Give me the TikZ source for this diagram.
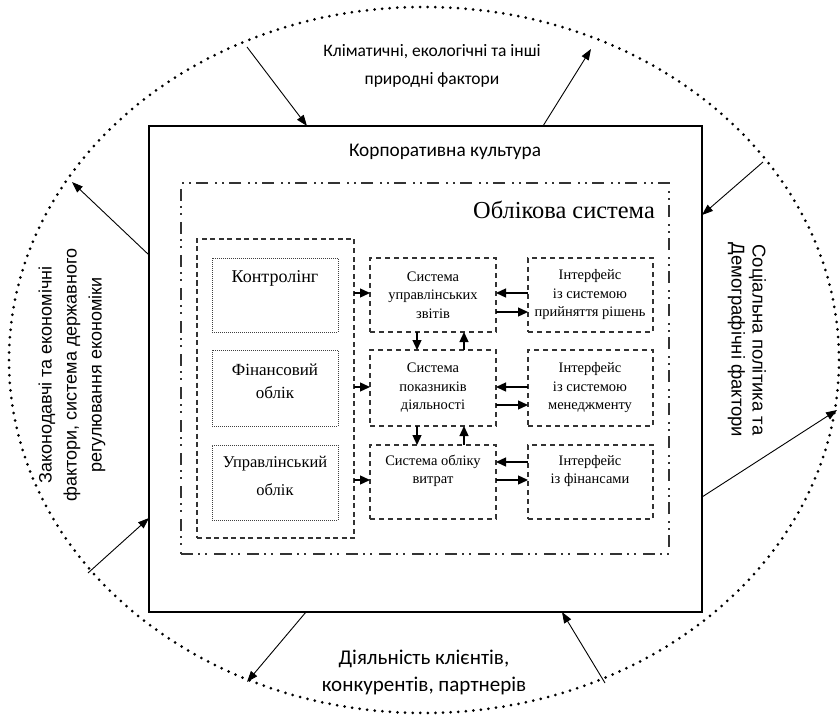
\documentclass[tikz,border=0pt]{standalone}
\usepackage{fontspec}
\setmainfont{Liberation Serif}
\newfontfamily\calibfont{Carlito}
\newfontfamily\arialfont{Liberation Sans}
\usetikzlibrary{arrows.meta,fit}
\begin{document}
\begin{tikzpicture}[x=1pt,y=-1pt,
  frame/.style={fit={#1},inner sep=0pt,outer sep=0pt,draw},
  corpbox/.style={line width=2.4pt},
  dashdotbox/.style={line width=1.5pt,black!80,dash pattern=on 12pt off 5pt on 2pt off 5pt on 2pt off 7pt},
  groupbox/.style={line width=1.1pt,black!80,dash pattern=on 5pt off 3.5pt},
  sysbox/.style={line width=1.1pt,black!80,dash pattern=on 5pt off 4pt},
  dotbox/.style={line width=0.9pt,black!75,dash pattern=on 1pt off 1pt},
  env/.style={line width=3pt,line cap=round,dash pattern=on 0pt off 7.6pt},
  bigarrow/.style={line width=0.9pt,-{Triangle[length=11pt,width=8pt]}},
  smallarrow/.style={line width=1.3pt,-{Triangle[length=10pt,width=9pt]}},
  txt/.style={inner sep=0pt,align=center},
  boxtxt/.style={txt,font=\fontsize{14.5}{18.5}\selectfont},
  midtxt/.style={txt,font=\fontsize{17}{23}\selectfont},
]
\useasboundingbox (0,0) rectangle (840,719);

% dotted environment boundary
\draw[env] (424,360) ellipse [x radius=415, y radius=353];

% corporate culture frame
\node[frame={(149,126) (702,612)},corpbox] (corp) {};
\node[txt,font=\calibfont\fontsize{19.3}{22}\selectfont] (corplbl) at (445,152) {Корпоративна культура};

% accounting system frame
\node[frame={(181,183) (669,554)},dashdotbox] (acc) {};
\node[txt,anchor=east,font=\fontsize{24.4}{28}\selectfont] (acclbl) at (655,210) {Облікова система};

% left group of accounting types
\node[frame={(197,239) (354,538)},groupbox] (grp) {};
\node[frame={(212,258) (338,332)},dotbox] (ctrl) {};
\node[frame={(212,350) (338,426)},dotbox] (fin) {};
\node[frame={(212,445) (338,520)},dotbox] (mgmt) {};
\node[txt,font=\fontsize{18}{22}\selectfont] (ctrltxt) at (275,278) {Контролінг};
\node[midtxt] (fintxt) at (275,381) {Фінансовий\\облік};
\node[txt,font=\fontsize{16.5}{28}\selectfont] (mgmttxt) at (275,476) {Управлінський\\облік};

% subsystems
\node[frame={(370,258) (496,332)},sysbox] (m1) {};
\node[frame={(370,350) (496,426)},sysbox] (m2) {};
\node[frame={(370,445) (496,519)},sysbox] (m3) {};
\node[boxtxt] (m1txt) at (433,295) {Система\\управлінських\\звітів};
\node[boxtxt] (m2txt) at (433,388) {Система\\показників\\діяльності};
\node[boxtxt] (m3txt) at (433,471) {Система обліку\\витрат};

% interfaces
\node[frame={(528,258) (653,332)},sysbox] (r1) {};
\node[frame={(528,350) (653,426)},sysbox] (r2) {};
\node[frame={(528,445) (653,519)},sysbox] (r3) {};
\node[boxtxt] (r1txt) at (590,295) {Інтерфейс\\із системою\\прийняття рішень};
\node[boxtxt] (r2txt) at (590,388) {Інтерфейс\\із системою\\менеджменту};
\node[boxtxt] (r3txt) at (590,471) {Інтерфейс\\із фінансами};

% group to subsystems
\draw[smallarrow] (grp.east |- 0,293) -- (m1.west |- 0,293);
\draw[smallarrow] (grp.east |- 0,387) -- (m2.west |- 0,387);
\draw[smallarrow] (grp.east |- 0,480) -- (m3.west |- 0,480);

% subsystems and interfaces
\draw[smallarrow] (r1.west |- 0,293) -- (m1.east |- 0,293);
\draw[smallarrow] (m1.east |- 0,312) -- (r1.west |- 0,312);
\draw[smallarrow] (r2.west |- 0,387) -- (m2.east |- 0,387);
\draw[smallarrow] (m2.east |- 0,405) -- (r2.west |- 0,405);
\draw[smallarrow] (r3.west |- 0,462) -- (m3.east |- 0,462);
\draw[smallarrow] (m3.east |- 0,480) -- (r3.west |- 0,480);

% between subsystems
\draw[smallarrow] (m1.south -| 417,0) -- (m2.north -| 417,0);
\draw[smallarrow] (m2.north -| 464,0) -- (m1.south -| 464,0);
\draw[smallarrow] (m2.south -| 417,0) -- (m3.north -| 417,0);
\draw[smallarrow] (m3.north -| 464,0) -- (m2.south -| 464,0);

% points on the environment boundary
\coordinate (e1) at (247,47);
\coordinate (e2) at (591,49);
\coordinate (e3) at (72,182);
\coordinate (e4) at (88,573);
\coordinate (e5) at (763,162);
\coordinate (e6) at (837,410);
\coordinate (e7) at (247,682);
\coordinate (e8) at (605,683);

% environment influences
\draw[bigarrow] (e1) -- (corp.north -| 307,0);
\draw[bigarrow] (corp.north -| 543,0) -- (e2);
\draw[bigarrow] (corp.west |- 0,255) -- (e3);
\draw[bigarrow] (e4) -- (corp.west |- 0,518);
\draw[bigarrow] (e5) -- (corp.east |- 0,215);
\draw[bigarrow] (corp.east |- 0,497) -- (e6);
\draw[bigarrow] (corp.south -| 306,0) -- (e7);
\draw[bigarrow] (e8) -- (corp.south -| 562,0);

% environment labels
\node[txt,font=\calibfont\fontsize{17.5}{28}\selectfont] (natlbl) at (432,66) {Кліматичні, екологічні та інші\\природні фактори};
\node[txt,font=\calibfont\fontsize{21}{27}\selectfont] (mktlbl) at (424,672) {Діяльність клієнтів,\\конкурентів, партнерів};
\node[txt,rotate=90,font=\arialfont\fontsize{18}{25}\selectfont] (leglbl) at (72,375) {Законодавчі та економічні\\фактори, система державного\\регулювання економіки};
\node[txt,rotate=-90,font=\arialfont\fontsize{18.5}{21}\selectfont] (soclbl) at (747,340) {Соціальна політика та\\Демографічні фактори};
\end{tikzpicture}
\end{document}
